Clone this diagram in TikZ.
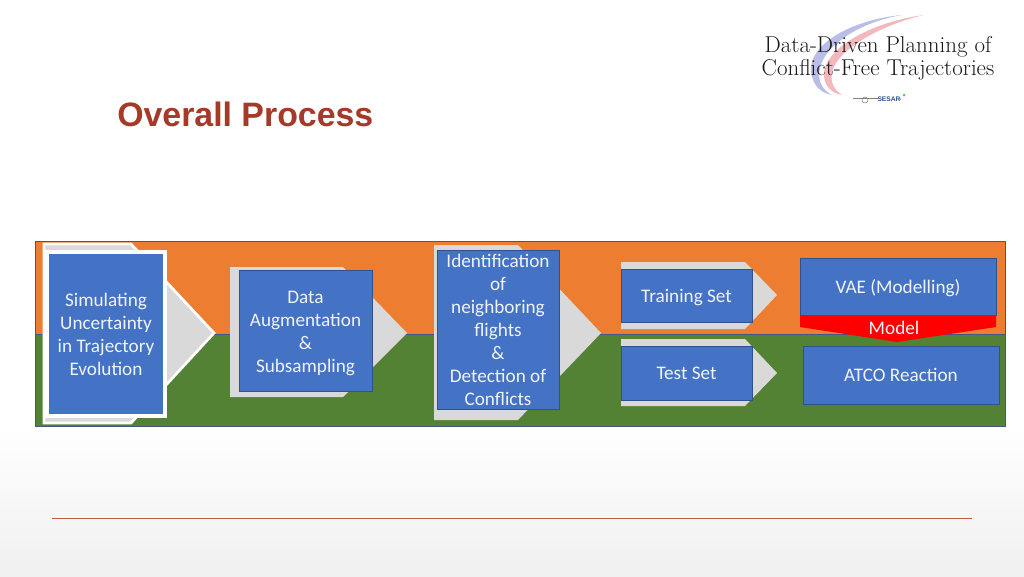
\documentclass[tikz,border=0pt]{standalone}
\usepackage{fontspec}
\setmainfont{Carlito}
\newfontfamily\titlefont{Liberation Sans}
\newfontfamily\logofont{Latin Modern Roman}
\definecolor{bandorange}{HTML}{ED7D31}
\definecolor{bandgreen}{HTML}{548235}
\definecolor{boxblue}{HTML}{4472C4}
\definecolor{boxedge}{HTML}{2F528F}
\definecolor{bandedge}{HTML}{41597F}
\definecolor{chevron}{HTML}{D9D9D9}
\definecolor{titlered}{HTML}{A63A28}
\definecolor{rulered}{HTML}{C0593F}
\definecolor{arcblue}{HTML}{B9BDE8}
\definecolor{arcred}{HTML}{F2B8BE}
\definecolor{softwhite}{HTML}{F0F4FA}
\newcommand{\pushdown}[1]{\rule{0pt}{#1}}
\tikzset{
  band/.style={draw=bandedge,line width=0.6pt},
  chev/.style={fill=chevron},
  stepbox/.style={draw=boxedge,line width=0.55pt,fill=boxblue,text=softwhite,align=center,inner sep=0pt,font=\fontsize{14.4pt}{17.25pt}\selectfont},
  lbl/.style={text=softwhite,align=center,inner sep=0pt,font=\fontsize{14.4pt}{17.25pt}\selectfont},
  logotext/.style={text=black!90,inner sep=0pt,font=\logofont\fontsize{17.2pt}{20pt}\selectfont},
}
\begin{document}
\begin{tikzpicture}[x=0.75pt,y=-0.75pt]
\useasboundingbox (0,0) rectangle (1024,576);
% slide background
\fill[white] (0,0) rectangle (1024,426);
\shade[top color=white,bottom color=black!6] (0,426) rectangle (1024,576);
% logo
\fill[arcblue] (902,15) .. controls (850,20) and (808,45) .. (811,72) .. controls (813,87) and (822,93) .. (832,95)
  .. controls (822,90) and (817,80) .. (820,68) .. controls (825,45) and (860,22) .. (902,15) -- cycle;
\fill[arcred] (924,15) .. controls (870,22) and (822,50) .. (824,76) .. controls (825,87) and (832,93) .. (842,95)
  .. controls (834,90) and (830,82) .. (832,72) .. controls (837,50) and (880,25) .. (924,15) -- cycle;
\node[logotext] (logoa) at (878,47) {Data-Driven Planning of};
\node[logotext] (logob) at (878,70) {Conflict-Free Trajectories};
\node[text=boxedge,inner sep=0pt,font=\titlefont\bfseries\fontsize{5pt}{5pt}\selectfont] (sesar) at (889,99) {SESAR};
\draw[black!50,line width=0.4pt] (853,98) -- (878,98);
\draw[black!50,line width=0.4pt] (865,100) circle (3);
\fill[green!60!black!60] (904,95) circle (1.5);
\fill[green!60!black!60] (900,99) circle (1);
% title
\node[anchor=west,inner sep=0pt,text=titlered,font=\titlefont\bfseries\fontsize{25.4pt}{30pt}\selectfont] (title) at (117,114.5) {Overall Process};
% bands
\path[band,fill=bandorange] (35,241) rectangle (1005,334);
\path[band,fill=bandgreen] (35,334) rectangle (1005,426);
% chevrons
\path[chev,draw=white,line width=2pt] (44,244) -- (131,244) -- (214,333) -- (131,423) -- (44,423) -- cycle;
\path[chev] (230,267) -- (343,267) -- (407,333) -- (343,397) -- (230,397) -- cycle;
\path[chev] (434,245) -- (518,245) -- (601,333) -- (518,420) -- (434,420) -- cycle;
\path[chev] (621,262) -- (745,262) -- (777,295) -- (745,329) -- (621,329) -- cycle;
\path[chev] (621,339) -- (745,339) -- (777,373) -- (745,406) -- (621,406) -- cycle;
% steps
\node[stepbox,draw=white,line width=3pt,minimum width=88pt,minimum height=123.5pt] (sim) at (106,334) {Simulating\\Uncertainty\\in Trajectory\\Evolution};
\node[stepbox,minimum width=99.75pt,minimum height=90.75pt] (aug) at (305.5,330.5) {\pushdown{14pt}Data\\Augmentation\\\&\\Subsampling};
\node[stepbox,minimum width=91.5pt,minimum height=119.25pt] (ident) at (498,329.5) {Identification\\of\\neighboring\\flights\\\&\\Detection of\\Conflicts};
\node[stepbox,minimum width=98.25pt,minimum height=39.75pt] (train) at (686.5,295.5) {\pushdown{12.8pt}Training Set};
\node[stepbox,minimum width=98.25pt,minimum height=40.5pt] (test) at (686.5,373) {Test Set};
% model arrow
\path[fill=red] (800,315) -- (996,315) -- (996,327) -- (897,342) -- (800,327) -- cycle;
\node[stepbox,minimum width=147pt,minimum height=42.75pt] (vae) at (898,286.5) {\pushdown{13.5pt}VAE (Modelling)};
\node[stepbox,minimum width=147pt,minimum height=43.5pt] (atco) at (901,375) {ATCO Reaction};
\node[lbl] (model) at (894,328) {Model};
% footer rule
\draw[rulered,line width=0.7pt] (52,518) -- (972,518);
\end{tikzpicture}
\end{document}
